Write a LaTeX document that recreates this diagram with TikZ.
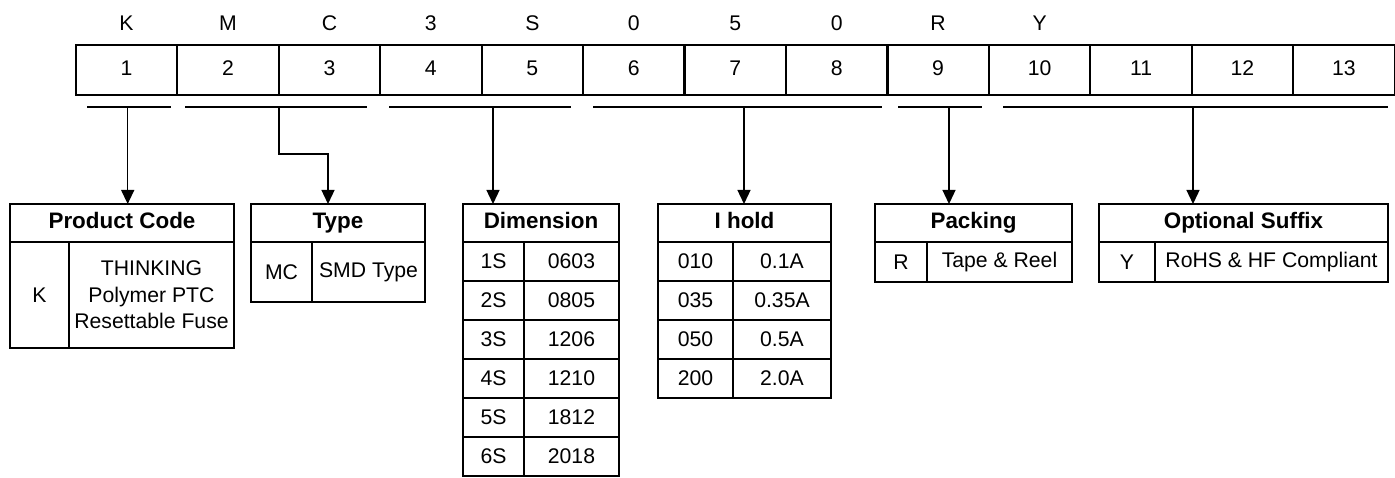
\documentclass[tikz,border=0pt]{standalone}
\usepackage{fontspec}
\setmainfont{Liberation Sans}
\usetikzlibrary{arrows.meta}
\begin{document}
\begin{tikzpicture}[x=1pt,y=-1pt,
  font=\fontsize{21.2}{26.5}\selectfont,
  cell/.style={draw,line width=2.2pt,outer sep=0pt,minimum width=101.45pt,minimum height=50pt,inner sep=0pt,anchor=north west,text height=15.5pt,text depth=4pt},
  hdr/.style={draw,line width=2.2pt,outer sep=0pt,minimum height=38pt,inner sep=0pt,anchor=north west,text height=16pt,text depth=4.5pt,font=\fontsize{22.4}{26.5}\selectfont\bfseries},
  tc/.style={draw,line width=2.2pt,outer sep=0pt,minimum height=39pt,inner sep=0pt,anchor=north west,align=center},
  bar/.style={line width=2.2pt},
  arr/.style={line width=1.3pt,-{Triangle[width=13pt,length=14pt]}}
]
\useasboundingbox (0,0) rectangle (1395,478);

% code cells
\foreach \i in {1,...,13}
  \node[cell] (c\i) at ({75.8+(\i-1)*101.45},45) {\i};
% letters
\foreach \l [count=\i] in {K,M,C,3,S,0,5,0,R,Y}
  \path (c\i.north) ++(0,-22.5) node[text height=15.5pt,text depth=0pt] (l\i) {\l};

% bars
\coordinate (b1l) at (87,107);   \coordinate (b1r) at (171,107);
\coordinate (b2l) at (185,107);  \coordinate (b2r) at (367,107);
\coordinate (b3l) at (389,107);  \coordinate (b3r) at (571,107);
\coordinate (b4l) at (593,107);  \coordinate (b4r) at (882,107);
\coordinate (b5l) at (898,107);  \coordinate (b5r) at (982,107);
\coordinate (b6l) at (1003,107); \coordinate (b6r) at (1388,107);
\foreach \k in {1,...,6} \draw[bar] (b\k l) -- (b\k r);

% Product Code
\node[hdr,minimum width=224pt] (pc) at (10,204) {Product Code};
\node[tc,minimum width=59pt,minimum height=106pt] (pck) at (pc.south west) {K};
\node[tc,minimum width=165pt,minimum height=106pt] (pcd) at (pck.north east) {THINKING\\Polymer PTC\\Resettable Fuse};

% Type
\node[hdr,minimum width=174pt] (ty) at (251,204) {Type};
\node[tc,minimum width=61pt,minimum height=60pt] (tyk) at (ty.south west) {MC};
\node[tc,minimum width=113pt,minimum height=60pt] (tyd) at (tyk.north east) {SMD Type};

% Dimension
\node[hdr,minimum width=156pt] (dm) at (463,204) {Dimension};
\foreach \a/\b [count=\r] in {1S/0603,2S/0805,3S/1206,4S/1210,5S/1812,6S/2018}{
  \node[tc,minimum width=61pt] (dmk\r) at ({463},{242+(\r-1)*39}) {\a};
  \node[tc,minimum width=95pt] (dmd\r) at (dmk\r.north east) {\b};
}

% I hold
\node[hdr,minimum width=173pt] (ih) at (658,204) {I hold};
\foreach \a/\b [count=\r] in {010/0.1A,035/0.35A,050/0.5A,200/2.0A}{
  \node[tc,minimum width=75pt] (ihk\r) at ({658},{242+(\r-1)*39}) {\a};
  \node[tc,minimum width=98pt] (ihd\r) at (ihk\r.north east) {\b};
}

% Packing
\node[hdr,minimum width=197pt] (pk) at (875,204) {Packing};
\node[tc,minimum width=52pt,minimum height=40pt] (pkk) at (pk.south west) {R};
\node[tc,minimum width=145pt,minimum height=40pt] (pkd) at (pkk.north east) {Tape \& Reel};

% Optional Suffix
\node[hdr,minimum width=289pt] (os) at (1099,204) {Optional Suffix};
\node[tc,minimum width=56pt,minimum height=40pt] (osk) at (os.south west) {Y};
\node[tc,minimum width=233pt,minimum height=40pt] (osd) at (osk.north east) {RoHS \& HF Compliant};

% arrows
\coordinate (a1) at (127.7,107);
\coordinate (a2) at (279,107);
\coordinate (k2) at (328,154);
\coordinate (a3) at (493,107);
\coordinate (a4) at (744,107);
\coordinate (a5) at (949,107);
\coordinate (a6) at (1193,107);
\draw[arr] (a1) -- (a1 |- pc.north);
\draw[arr] (a2) |- (k2) -- (k2 |- ty.north);
\draw[arr] (a3) -- (a3 |- dm.north);
\draw[arr] (a4) -- (a4 |- ih.north);
\draw[arr] (a5) -- (a5 |- pk.north);
\draw[arr] (a6) -- (a6 |- os.north);
\end{tikzpicture}
\end{document}
